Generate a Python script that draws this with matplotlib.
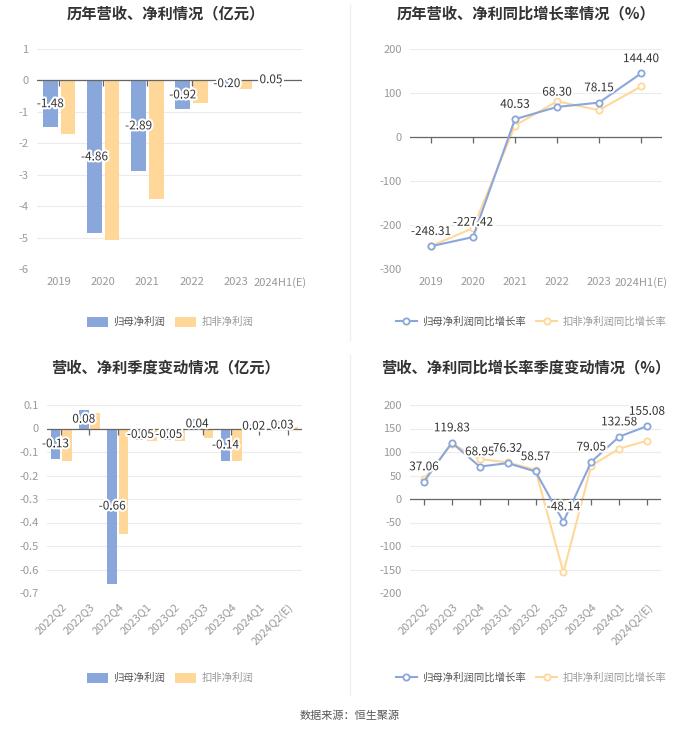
import numpy as np
import matplotlib
matplotlib.use('Agg')
import matplotlib.pyplot as plt
import matplotlib.patheffects as pe
from matplotlib.lines import Line2D

plt.rcParams['font.family'] = ['Noto Sans CJK SC', 'DejaVu Sans']
plt.rcParams['axes.unicode_minus'] = False

# ---- data ----
years = ['2019', '2020', '2021', '2022', '2023', '2024H1(E)']
np_parent_y = [-1.48, -4.86, -2.89, -0.92, -0.20, 0.05]
np_deduct_y = [-1.71, -5.07, -3.78, -0.73, -0.28, 0.01]
gr_parent_y = [-248.31, -227.42, 40.53, 68.30, 78.15, 144.40]
gr_deduct_y = [-248.0, -207.0, 26.0, 81.0, 61.0, 115.0]

quarters = ['2022Q2', '2022Q3', '2022Q4', '2023Q1', '2023Q2', '2023Q3',
            '2023Q4', '2024Q1', '2024Q2(E)']
np_parent_q = [-0.13, 0.08, -0.66, -0.05, -0.05, 0.04, -0.14, 0.02, 0.03]
np_deduct_q = [-0.14, 0.066, -0.45, -0.052, -0.052, -0.042, -0.14, 0.002, 0.005]
gr_parent_q = [37.06, 119.83, 68.95, 76.32, 58.57, -48.14, 79.05, 132.58, 155.08]
gr_deduct_q = [42.0, 118.0, 85.0, 78.0, 62.0, -156.0, 71.0, 107.0, 124.0]

BLUE = '#8AA7DB'
YELLOW = '#FFD899'
W, H = 700, 734

fig = plt.figure(figsize=(W / 100, H / 100), dpi=100)
fig.patch.set_facecolor('white')


def rect(x0, x1, y0, y1):
    return [x0 / W, 1 - y1 / H, (x1 - x0) / W, (y1 - y0) / H]


halo = [pe.withStroke(linewidth=3, foreground='white')]


def style_axes(ax, cats, ylim, yticks, rotate=False):
    n = len(cats)
    ax.set_xlim(-0.5, n - 0.5)
    ax.set_ylim(*ylim)
    ax.set_yticks(yticks)
    ax.set_yticklabels(['{:g}'.format(round(t, 1) + 0.0) for t in yticks])
    ax.set_xticks(np.arange(n))
    ax.set_xticklabels(cats)
    for s in ax.spines.values():
        s.set_visible(False)
    ax.grid(axis='y', color='#ececec', lw=0.8)
    ax.set_axisbelow(True)
    ax.tick_params(axis='both', length=0, labelsize=8, colors='#999999', pad=6)
    if rotate:
        for lab in ax.get_xticklabels():
            lab.set_rotation(45)
            lab.set_ha('right')
            lab.set_rotation_mode('anchor')
    ax.axhline(0, color='#666666', lw=0.9, zorder=3)
    ax.plot(np.arange(n), np.zeros(n), ls='none', marker=3, ms=4,
            mew=0.9, color='#666666', zorder=3)


def bar_panel(ax, cats, a, b, ylim, yticks, rotate=False):
    x = np.arange(len(cats))
    ax.bar(x - 0.2, a, width=0.33, color=BLUE, zorder=2, label='归母净利润')
    ax.bar(x + 0.2, b, width=0.33, color=YELLOW, zorder=2, label='扣非净利润')
    style_axes(ax, cats, ylim, yticks, rotate)
    for xi, v in zip(x, a):
        ax.text(xi - 0.2, v / 2, '{:.2f}'.format(v), ha='center', va='center',
                fontsize=8.5, color='#333333', path_effects=halo, zorder=5)


def line_panel(ax, cats, a, b, ylim, yticks, rotate=False):
    x = np.arange(len(cats))
    ax.plot(x, b, color=YELLOW, lw=1.5, marker='o', ms=4.5, mfc='white',
            mec=YELLOW, mew=1.3, zorder=3, label='扣非净利润同比增长率')
    ax.plot(x, a, color=BLUE, lw=1.5, marker='o', ms=4.5, mfc='white',
            mec=BLUE, mew=1.3, zorder=4, label='归母净利润同比增长率')
    style_axes(ax, cats, ylim, yticks, rotate)
    for xi, v in zip(x, a):
        ax.annotate('{:.2f}'.format(v), (xi, v), xytext=(0, 6),
                    textcoords='offset points', ha='center', va='bottom',
                    fontsize=8.5, color='#333333', path_effects=halo, zorder=5)


ax1 = fig.add_axes(rect(37, 302, 49, 269))
bar_panel(ax1, years, np_parent_y, np_deduct_y, (-6, 1), np.arange(-6, 2, 1))

ax2 = fig.add_axes(rect(410, 662, 49, 269))
line_panel(ax2, years, gr_parent_y, gr_deduct_y, (-300, 200), np.arange(-300, 201, 100))

ax3 = fig.add_axes(rect(47, 302, 405, 593))
bar_panel(ax3, quarters, np_parent_q, np_deduct_q, (-0.7, 0.1),
          np.arange(-0.7, 0.11, 0.1), rotate=True)

ax4 = fig.add_axes(rect(410, 661, 405, 593))
line_panel(ax4, quarters, gr_parent_q, gr_deduct_q, (-200, 200),
           np.arange(-200, 201, 50), rotate=True)

# titles
title_kw = dict(ha='center', va='center', fontsize=11, fontweight='bold', color='#333333')
fig.text(166 / W, 1 - 13 / H, '历年营收、净利情况（亿元）', **title_kw)
fig.text(526 / W, 1 - 13 / H, '历年营收、净利同比增长率情况（%）', **title_kw)
fig.text(166 / W, 1 - 367 / H, '营收、净利季度变动情况（亿元）', **title_kw)
fig.text(526 / W, 1 - 367 / H, '营收、净利同比增长率季度变动情况（%）', **title_kw)


# legends
def add_legend(ax, order, xc, yc):
    h, l = ax.get_legend_handles_labels()
    h = [h[l.index(o)] for o in order]
    leg = fig.legend(h, order, loc='center', bbox_to_anchor=(xc / W, 1 - yc / H),
                     ncol=2, frameon=False, fontsize=7.5, handlelength=2.0,
                     handleheight=1.1, columnspacing=1.0, handletextpad=0.5)
    for t, c in zip(leg.get_texts(), ['#555555', '#999999']):
        t.set_color(c)


add_legend(ax1, ['归母净利润', '扣非净利润'], 170, 322)
add_legend(ax2, ['归母净利润同比增长率', '扣非净利润同比增长率'], 531, 322)
add_legend(ax3, ['归母净利润', '扣非净利润'], 170, 678)
add_legend(ax4, ['归母净利润同比增长率', '扣非净利润同比增长率'], 531, 678)

# dividers
fig.add_artist(Line2D([350 / W, 350 / W], [1 - 5 / H, 1 - 340 / H], color='#f0f0f0', lw=1))
fig.add_artist(Line2D([350 / W, 350 / W], [1 - 355 / H, 1 - 695 / H], color='#f0f0f0', lw=1))

fig.text(0.5, 1 - 716 / H, '数据来源：恒生聚源', ha='center', va='center',
         fontsize=8, color='#555555')

fig.savefig('out.png', dpi=100, facecolor='white')
